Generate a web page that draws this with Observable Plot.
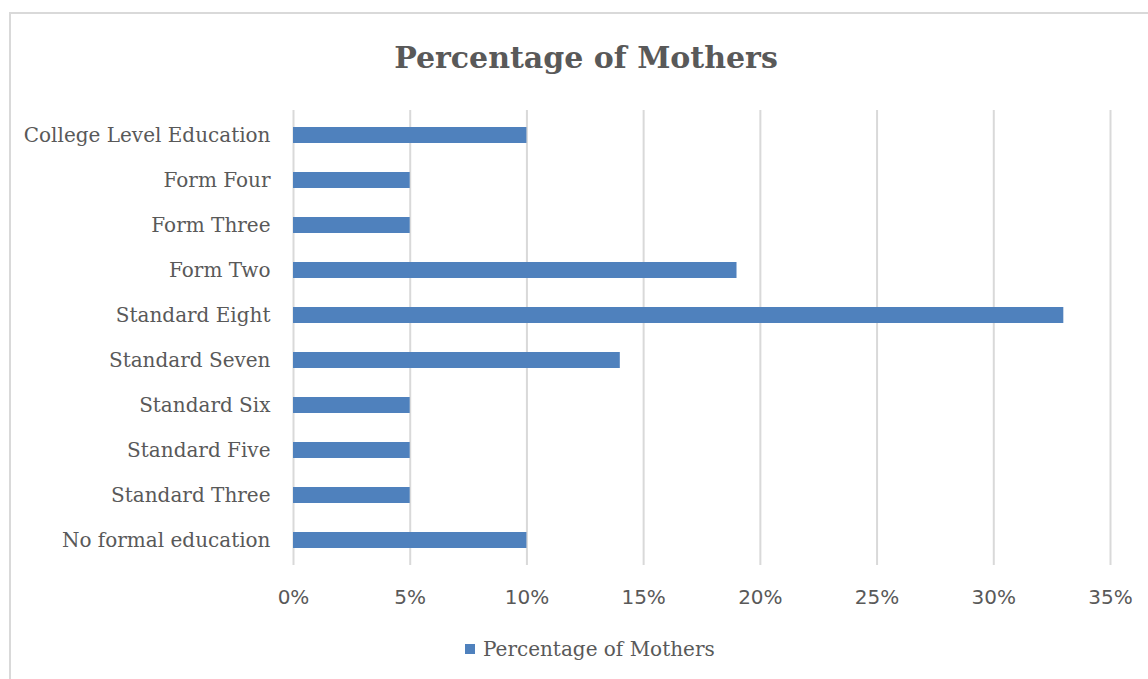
<!DOCTYPE html>
<html>
<head>
<meta charset="utf-8">
<script src="https://cdn.jsdelivr.net/npm/d3@7"></script>
<script src="https://cdn.jsdelivr.net/npm/@observablehq/plot@0.6"></script>
<style>
  body { margin: 0; background: #fff; }
  #wrap { position: relative; width: 1148px; height: 679px; overflow: hidden; }
  #frame { position: absolute; left: 9px; top: 12px; width: 1160px; height: 700px; border: 2px solid #d9d9d9; box-sizing: border-box; }
  #title { position: absolute; left: 0; width: 1172px; top: 40px; text-align: center; font-family: "DejaVu Serif", serif; font-weight: bold; font-size: 30px; color: #595959; }
  #legend { position: absolute; left: 465px; top: 637px; font-family: "DejaVu Serif", serif; font-size: 20px; color: #595959; display: flex; align-items: center; }
  #legend span.sw { display: inline-block; width: 10px; height: 10px; background: #4f81bd; margin-right: 8px; }
  #chart { position: absolute; left: 0; top: 0; }
</style>
</head>
<body>
<div id="wrap">
  <div id="frame"></div>
  <div id="chart"></div>
  <div id="title">Percentage of Mothers</div>
  <div id="legend"><span class="sw"></span><span>Percentage of Mothers</span></div>
</div>
<script>
const categories = [
  "College Level Education",
  "Form Four",
  "Form Three",
  "Form Two",
  "Standard Eight",
  "Standard Seven",
  "Standard Six",
  "Standard Five",
  "Standard Three",
  "No formal education"
];
const values = [10, 5, 5, 19, 33, 14, 5, 5, 5, 10];
const xTicks = [0, 5, 10, 15, 20, 25, 30, 35];

const data = categories.map((c, i) => ({ category: c, value: values[i] }));

const chart = Plot.plot({
  width: 1148,
  height: 679,
  marginLeft: 293,
  marginRight: 38,
  marginTop: 110,
  marginBottom: 114,
  style: { background: "transparent", overflow: "visible" },
  x: { domain: [0, 35], ticks: xTicks, tickFormat: d => d + "%" , label: null },
  y: { domain: categories, label: null, paddingInner: 0.65, paddingOuter: 0.325 },
  marks: [
    Plot.gridX(xTicks, { stroke: "#d9d9d9", strokeOpacity: 1, strokeWidth: 2 }),
    Plot.barX(data, { x: "value", y: "category", fill: "#4f81bd" }),
    Plot.axisX({ ticks: xTicks, tickSize: 0, tickPadding: 24, tickFormat: d => d + "%", fontSize: 20, fontFamily: "DejaVu Sans, sans-serif", fill: "#595959", label: null }),
    Plot.axisY({ tickSize: 0, tickPadding: 23, fontSize: 20, fontFamily: "DejaVu Serif, serif", fill: "#595959", label: null })
  ]
});
document.getElementById("chart").appendChild(chart);
</script>
</body>
</html>
